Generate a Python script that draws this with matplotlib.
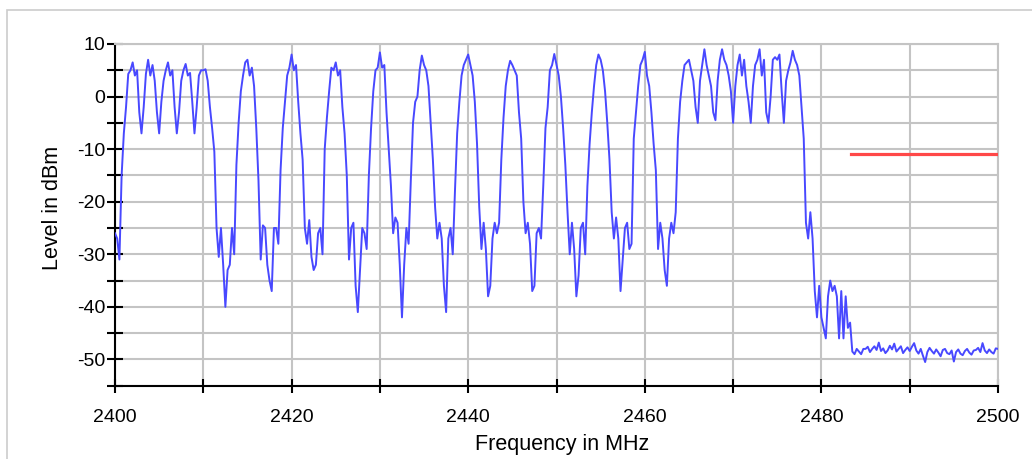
import numpy as np
import matplotlib.pyplot as plt
from matplotlib.patches import Rectangle
from matplotlib.ticker import MultipleLocator

plt.rcParams['font.family'] = ['Liberation Sans', 'DejaVu Sans']
plt.rcParams['axes.unicode_minus'] = False

# Spektrum 2400-2500 MHz, Schrittweite 0.25 MHz (eine Zeile = 5 MHz)
f_start = 2400.0
f_step = 0.25
level = [
    # 2400
    -26, -27, -31, -15, -7, -2, 4.3, 5, 6.5, 4, 5, -3, -7, -2, 4.3, 7, 4, 6, 3, -3,
    # 2405
    -7, -1, 3, 5, 6.5, 4, 5, -2, -7, -3, 3, 5, 6.2, 4, 4.5, -1, -7, -2, 4, 5,
    # 2410
    5, 5.2, 3, -2, -6, -10.5, -25, -30.5, -25, -32, -40, -33, -32, -25, -30, -13, -5, 1, 4, 6.5,
    # 2415
    7, 4, 5.5, 2, -6, -16, -31, -24.5, -25, -32, -35, -37, -25, -25, -28, -14, -6, -1, 4, 5.5,
    # 2420
    8, 5, 6, -1, -7, -12, -25, -28, -23.5, -30.5, -33, -32, -26, -25, -30, -10, -4, 1, 5.5, 5,
    # 2425
    6.5, 4, 5, -2, -7, -15, -31, -25, -24, -36, -41, -33, -25, -26, -29, -15, -6, 1, 5, 5.5,
    # 2430
    8.4, 5.5, 6, -3, -10, -17, -26, -23, -24, -32, -42, -32, -25, -28, -16, -5, -1, 0, 5, 7.8,
    # 2435
    6, 5, 2, -5, -12, -21, -27, -24, -27, -36, -41, -27, -25, -30, -18, -7, -1, 4, 6, 7,
    # 2440
    8, 6, 4, -1, -9, -21, -29, -24, -29, -38, -36, -27, -24, -26, -24, -12, -4, 2, 5, 6.8,
    # 2445
    6, 5, 4, -3, -8, -20, -26, -24, -28, -37, -36, -26, -25, -27, -17, -6, -2, 5, 6, 8.1,
    # 2450
    6, 4, 0, -6, -13, -22, -30, -24, -29, -38, -34, -25, -24, -30, -17, -9, -3, 2, 6, 8,
    # 2455
    7, 5, 1, -5, -12, -22, -27, -23, -27, -37, -31, -25, -24, -29, -28, -8, -3, 2, 6, 7,
    # 2460
    8.5, 4, 2, -3, -9, -14, -29, -24, -27, -33, -36, -27, -24, -26, -22, -8, -1, 3, 6, 6.5,
    # 2465
    7, 5, 3, -2, -5, 3, 6, 9, 6, 4, 2, -3, -4.5, 3, 7, 9, 7, 6, 4, 1,
    # 2470
    -5, 2, 6, 8, 4, 7, 2, -1, -5, 2, 6, 7, 9, 4, 7, -3, -5, 0, 7, 7.5,
    # 2475
    7, 8, 1, -5, 3, 5, 6.5, 8.7, 7, 6, 4, -2, -8, -24, -27, -22, -27, -37, -42, -36,
    # 2480
    -42, -44, -46, -38, -35, -37, -36, -38, -46, -37, -46, -38, -44, -43, -48.5, -49, -48, -48.5, -49, -48,
    # 2485
    -48.0, -47.6, -48.6, -48.0, -47.5, -48.2, -46.8, -48.4, -47.9, -48.8, -48.3, -47.4, -48.1, -47.0, -48.5, -48.0, -47.5, -48.8, -48.2, -47.7,
    # 2490
    -48.4, -47.6, -46.9, -48.3, -48.9, -48.0, -49.3, -50.5, -48.6, -47.8, -48.4, -48.9, -48.1, -48.7, -49.4, -48.2, -48.0, -48.8, -49.0, -48.3,
    # 2495
    -50.4, -48.6, -48.1, -48.9, -49.2, -48.4, -48.0, -48.7, -49.1, -48.3, -48.2, -47.8, -48.6, -46.9, -48.3, -48.8, -48.1, -48.6, -48.9, -47.9,
    # 2500
    -48.0,
]
freq = f_start + f_step * np.arange(len(level))

# Grenzwert oberhalb des Bandes
limit_f = [2483.3, 2500]
limit_level = [-11, -11]

fig = plt.figure(figsize=(10.32, 4.59), dpi=100)
ax = fig.add_axes([115/1032, 1-385.7/459, 883/1032, 341.7/459])

# hellgrauer Rahmen um das Bild
fig.add_artist(Rectangle((7/1032, -0.1), 1.2, 1.1 - 10/459, transform=fig.transFigure,
                         fill=False, edgecolor='#cccccc', linewidth=1.2))

ax.plot(freq, level, color='#4848ff', linewidth=1.4, zorder=3)
ax.plot(limit_f, limit_level, color='#ff4848', linewidth=2.3, zorder=4)

ax.set_xlim(2400, 2500)
ax.set_ylim(-55, 10)
ax.xaxis.set_major_locator(MultipleLocator(20))
ax.xaxis.set_minor_locator(MultipleLocator(10))
ax.yaxis.set_major_locator(MultipleLocator(10))
ax.yaxis.set_minor_locator(MultipleLocator(5))
ax.grid(True, which='both', color='#c4c4c4', linewidth=1.5, zorder=1)
ax.set_axisbelow(True)

for s in ['left', 'bottom']:
    ax.spines[s].set_linewidth(1.5)
    ax.spines[s].set_color('black')
for s in ['top', 'right']:
    ax.spines[s].set_linewidth(1.5)
    ax.spines[s].set_color('#c4c4c4')

ax.tick_params(axis='y', which='both', direction='inout', length=11, width=1.5, pad=1.5, labelsize=14)
ax.tick_params(axis='x', which='both', direction='inout', length=10, width=1.5, pad=11.5, labelsize=14)

ax.set_ylabel('Level in dBm', fontsize=15.5)
ax.yaxis.set_label_coords(-0.059, 0.52)
ax.set_xlabel('Frequency in MHz', fontsize=15.5)
ax.xaxis.set_label_coords(0.506, -0.141)

fig.savefig('out.png', dpi=100)
